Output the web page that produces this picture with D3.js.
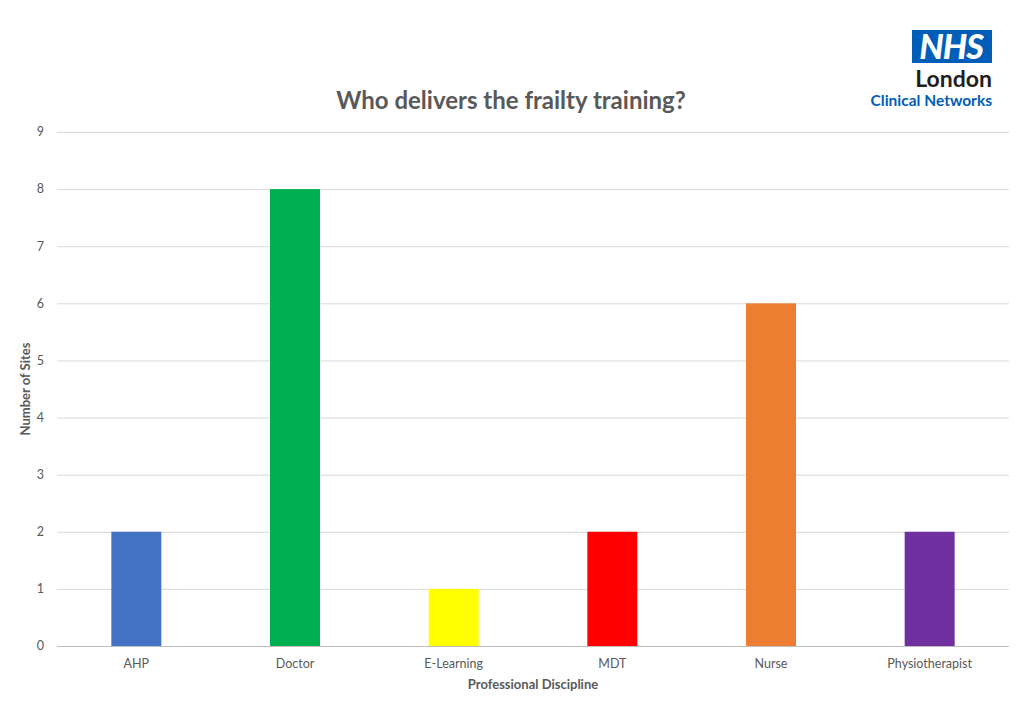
<!DOCTYPE html>
<html><head><meta charset="utf-8">
<script src="https://cdn.jsdelivr.net/npm/d3@7"></script>
<style>body{margin:0;background:#fff}svg{display:block}text{font-family:Lato,"Open Sans",sans-serif}</style>
</head><body><svg id="c" width="1024" height="709"></svg>
<script>
const categories=["AHP","Doctor","E-Learning","MDT","Nurse","Physiotherapist"];
const values=[2,8,1,2,6,2];
const colors=["#4472C4","#00B050","#FFFF00","#FF0000","#ED7D31","#7030A0"];
const yTicks=[0,1,2,3,4,5,6,7,8,9];
const svg=d3.select("#c");
const L=57,R=1009,T=132,B=646;
const x=d3.scaleBand().domain(categories).range([L,R]).paddingInner(0.685).paddingOuter(0.3425);
const y=d3.scaleLinear().domain([0,9]).range([B,T]);
const g=svg.append("g");
g.selectAll("line.grid").data(yTicks).join("line").attr("class","grid")
 .attr("x1",L).attr("x2",R).attr("y1",d=>y(d)+0.5).attr("y2",d=>y(d)+0.5)
 .attr("stroke",d=>d===0?"#BFBFBF":"#D9D9D9").attr("stroke-width",1);
g.selectAll("text.yt").data(yTicks).join("text").attr("class","yt")
 .attr("x",44).attr("y",d=>y(d)).attr("dy","0.35em").attr("text-anchor","end")
 .attr("font-size",12.5).attr("fill","#595959").text(d=>d);
g.selectAll("rect.bar").data(categories).join("rect").attr("class","bar")
 .attr("x",d=>x(d)).attr("width",x.bandwidth())
 .attr("y",(d,i)=>y(values[i])).attr("height",(d,i)=>y(0)-y(values[i]))
 .attr("fill",(d,i)=>colors[i]);
g.selectAll("text.xt").data(categories).join("text").attr("class","xt")
 .attr("x",d=>x(d)+x.bandwidth()/2).attr("y",668).attr("text-anchor","middle")
 .attr("font-size",12.5).attr("fill","#595959").text(d=>d);
svg.append("text").attr("x",533).attr("y",689).attr("text-anchor","middle")
 .attr("font-size",13).attr("font-weight","bold").attr("fill","#595959").text("Professional Discipline");
svg.append("text").attr("transform","translate(30,389) rotate(-90)").attr("text-anchor","middle")
 .attr("font-size",13).attr("font-weight","bold").attr("fill","#595959").text("Number of Sites");
svg.append("text").attr("x",511).attr("y",109).attr("text-anchor","middle")
 .attr("font-size",24).attr("font-weight","bold").attr("fill","#595959").text("Who delivers the frailty training?");
// logo
svg.append("rect").attr("x",912).attr("y",30).attr("width",80).attr("height",33).attr("fill","#005EB8");
svg.append("text").attr("x",951).attr("y",59).attr("text-anchor","middle").attr("font-size",34)
 .attr("font-weight","900").attr("font-style","italic").attr("fill","#fff").attr("letter-spacing","-1").text("NHS");
svg.append("text").attr("x",992).attr("y",87).attr("text-anchor","end").attr("font-size",23)
 .attr("fill","#231f20").attr("font-weight","bold").text("London");
svg.append("text").attr("x",992).attr("y",106).attr("text-anchor","end").attr("font-size",15.5)
 .attr("font-weight","bold").attr("fill","#005EB8").text("Clinical Networks");
</script></body></html>
